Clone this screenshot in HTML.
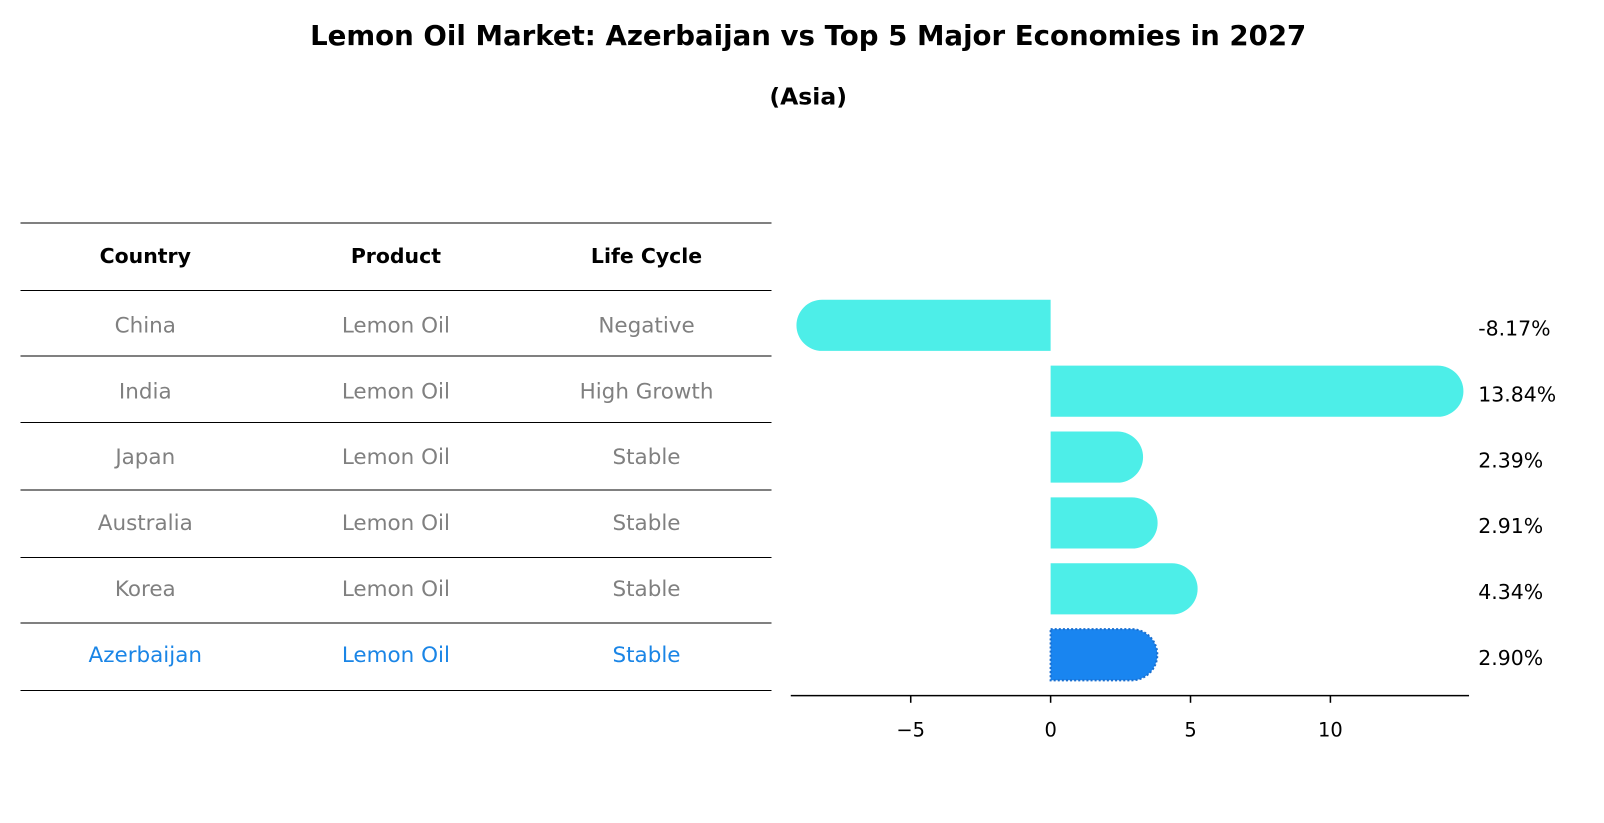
<!DOCTYPE html>
<html><head><meta charset="utf-8"><style>
body{margin:0;background:#fff;font-family:"DejaVu Sans","Liberation Sans",sans-serif}
#root{position:relative;width:1604px;height:823px;overflow:hidden}
#inner{position:absolute;left:0;top:0;width:1568px;height:805px;transform:scale(1.023);transform-origin:0 0}
.t{position:absolute;white-space:nowrap}
svg text{font-family:"DejaVu Sans","Liberation Sans",sans-serif}
</style></head><body>
<div id="root">
<div id="inner">
<div class="t" style="left:0;width:1580px;text-align:center;top:20px;font-size:27px;font-weight:bold">Lemon Oil Market: Azerbaijan vs Top 5 Major Economies in 2027</div>
<div class="t" style="left:0;width:1580px;text-align:center;top:82px;font-size:23px;font-weight:bold">(Asia)</div>
<svg id="svg" width="1568" height="805" style="position:absolute;left:0;top:0"></svg>
</div>
</div>
<script>
const countries=["China","India","Japan","Australia","Korea","Azerbaijan"];
const products=["Lemon Oil","Lemon Oil","Lemon Oil","Lemon Oil","Lemon Oil","Lemon Oil"];
const lifeCycle=["Negative","High Growth","Stable","Stable","Stable","Stable"];
const values=[-8.17,13.84,2.39,2.91,4.34,2.90];
const valueLabels=["-8.17%","13.84%","2.39%","2.91%","4.34%","2.90%"];
const ticks=[-5,0,5,10];

const NS="http://www.w3.org/2000/svg";
const svg=document.getElementById('svg');
function mk(t,a,name){const e=document.createElementNS(NS,t);for(const k in a)e.setAttribute(k,a[k]);


svg.appendChild(e);return e;}
const x0=1027,ppu=27.35;
const xs=v=>x0+v*ppu;
const rowY=i=>318+i*64.4;
const hl=[218,284,348,413,479,545,609,675];
hl.forEach((y,i)=>mk('line',{x1:20,x2:754,y1:y,y2:y,stroke:'#000','stroke-width':1,'shape-rendering':'crispEdges'},'table-rule-'+i));
const colX=[142,387,632];
["Country","Product","Life Cycle"].forEach((h,j)=>{const t=mk('text',{x:colX[j],y:257,'text-anchor':'middle','font-size':20,'font-weight':'bold'},'table-header');t.textContent=h;});
countries.forEach((c,i)=>{
 const col=i===countries.length-1?'#1a85e6':'#808080';
 [c,products[i],lifeCycle[i]].forEach((s,j)=>{const t=mk('text',{x:colX[j],y:rowY(i)+7,'text-anchor':'middle','font-size':21,fill:col},'table-cell');t.textContent=s;});
});
const bh=50,r=25;
values.forEach((v,i)=>{
 const last=i===values.length-1;
 const fill=last?'#1985f0':'#4deee8';
 const yc=rowY(i),xe=xs(v),s=Math.sign(v);
 const d=`M${x0},${yc-bh/2} L${xe},${yc-bh/2} A${r},${r} 0 0 ${s>0?1:0} ${xe},${yc+bh/2} L${x0},${yc+bh/2} Z`;
 const p=mk('path',{d,fill},'bar-'+countries[i].toLowerCase());
 if(last){p.setAttribute('stroke','#1a6fd0');p.setAttribute('stroke-width',2);p.setAttribute('stroke-dasharray','2 2');}
 const t=mk('text',{x:1445,y:yc+10,'font-size':20},'value-label');t.textContent=valueLabels[i];
});
mk('line',{x1:773,x2:1436,y1:680,y2:680,stroke:'#000','stroke-width':1.5},'x-axis-line');
ticks.forEach(v=>{mk('line',{x1:xs(v),x2:xs(v),y1:680,y2:687,stroke:'#000','stroke-width':1.5},'x-tick');
 const t=mk('text',{x:xs(v),y:720,'text-anchor':'middle','font-size':19},'x-tick-label');t.textContent=v<0?'\u2212'+Math.abs(v):String(v);});
</script>
</body></html>
